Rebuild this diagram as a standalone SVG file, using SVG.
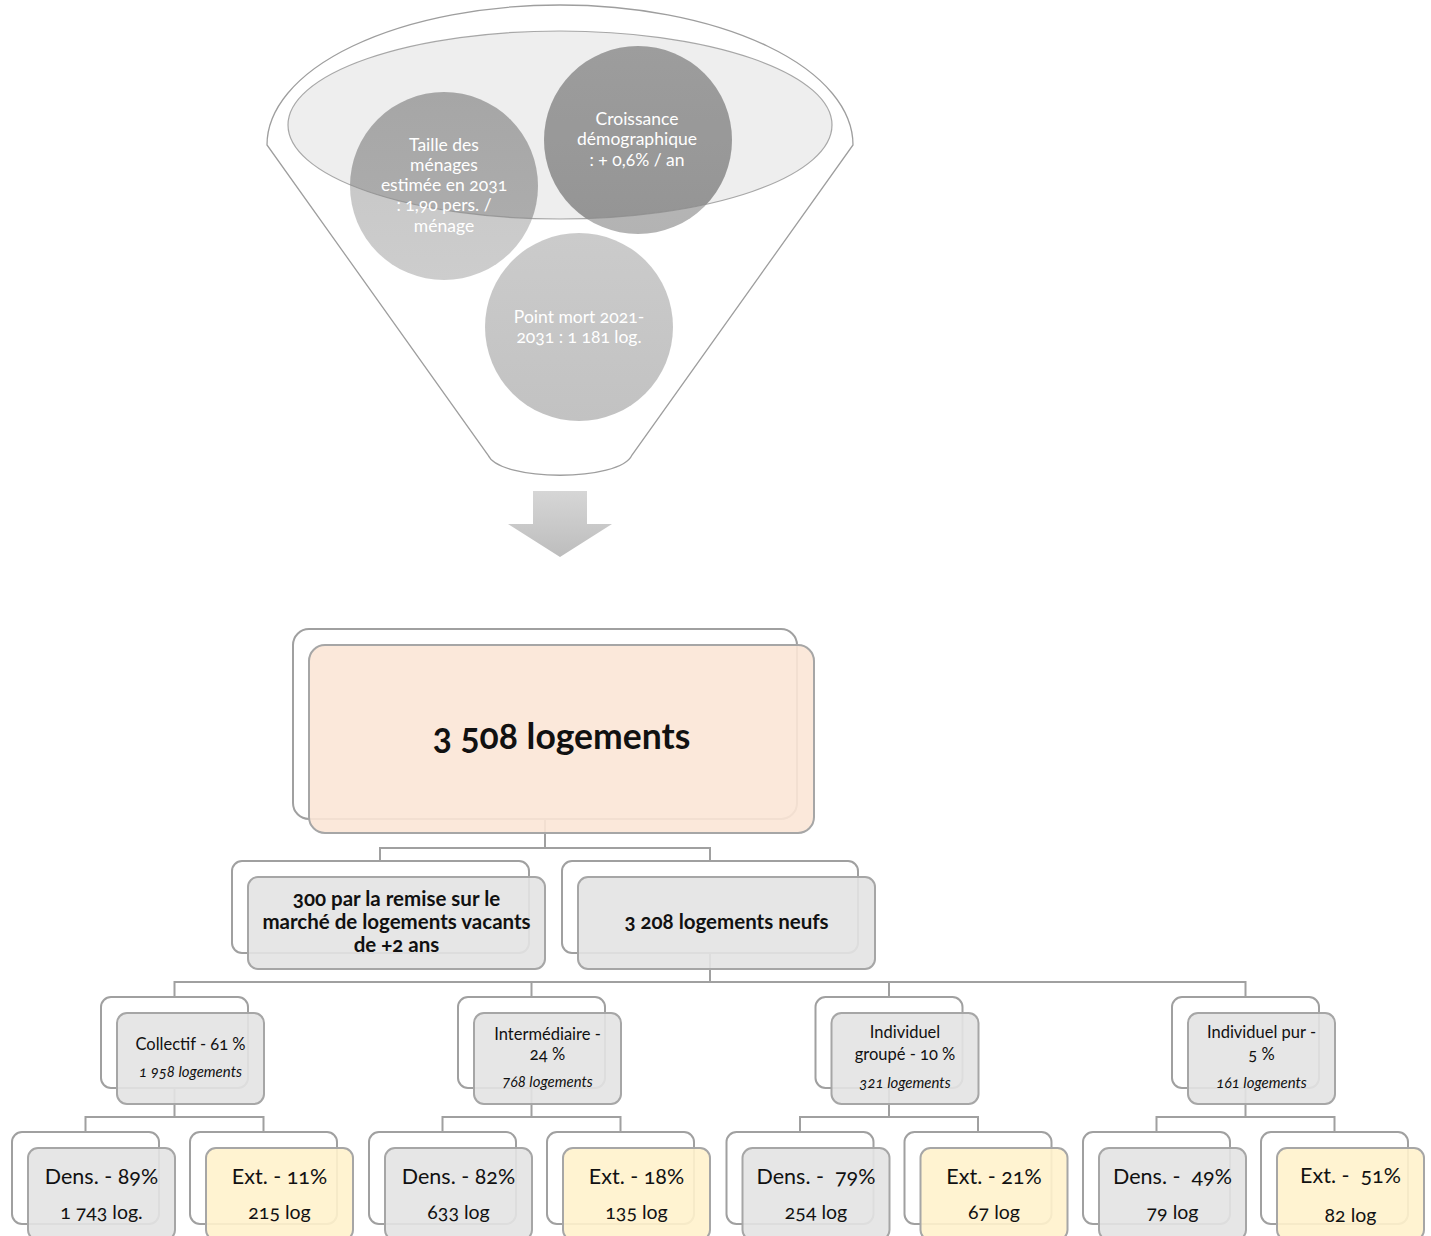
<svg xmlns="http://www.w3.org/2000/svg" width="1431" height="1236" viewBox="0 0 1431 1236">
<style>
text{font-family:"Lato","Open Sans","DejaVu Sans",sans-serif;text-anchor:middle;white-space:pre;font-variant-numeric:oldstyle-nums;}
.ft{fill:#ffffff;font-size:17.5px;}
.back{fill:#ffffff;stroke:#a0a0a0;stroke-width:2;}
.front{stroke:#a6a6a6;stroke-width:2;fill-opacity:0.9;}
.gray{fill:#e3e3e3;}
.peach{fill:#fbe5d6;}
.yellow{fill:#fff2cc;}
.conn{fill:none;stroke:#a0a0a0;stroke-width:2;}
.b{font-weight:bold;fill:#111;}
.l3{font-size:16.5px;fill:#111;}
.l3i{font-size:15px;font-style:italic;fill:#111;}
.l4a{font-size:21.5px;fill:#111;}
.l4b{font-size:19.5px;fill:#111;}
</style>
<defs>
<linearGradient id="gT" x1="0" y1="0" x2="0" y2="1"><stop offset="0" stop-color="#c4c4c4"/><stop offset="1" stop-color="#cdcdcd"/></linearGradient>
<linearGradient id="gC" x1="0" y1="0" x2="0" y2="1"><stop offset="0" stop-color="#bdbdbd"/><stop offset="1" stop-color="#b3b3b3"/></linearGradient>
<linearGradient id="gP" x1="0" y1="0" x2="0" y2="1"><stop offset="0" stop-color="#cbcbcb"/><stop offset="1" stop-color="#c2c2c2"/></linearGradient>
<linearGradient id="gA" x1="0" y1="0" x2="0" y2="1"><stop offset="0" stop-color="#d6d6d6"/><stop offset="1" stop-color="#bdbdbd"/></linearGradient>
<clipPath id="ellClip"><ellipse cx="560" cy="125" rx="272" ry="94"/></clipPath>
</defs>

<g id="funnel">
<path d="M 267 145 A 293 140 0 0 1 853 145 L 632 455 C 620 482, 500 482, 488 455 Z" fill="#ffffff" stroke="#9e9e9e" stroke-width="1.3"/>
<ellipse cx="560" cy="125" rx="272" ry="94" fill="#eeeeee"/>
</g>

<g id="circle-taille">
<circle cx="444" cy="186" r="94" fill="url(#gT)"/>
<circle cx="444" cy="186" r="94" fill="#000" fill-opacity="0.15" clip-path="url(#ellClip)"/>
</g>
<g id="circle-croissance">
<circle cx="638" cy="140" r="94" fill="url(#gC)"/>
<circle cx="638" cy="140" r="94" fill="#000" fill-opacity="0.17" clip-path="url(#ellClip)"/>
</g>
<g id="circle-pointmort">
<circle cx="579" cy="327" r="94" fill="url(#gP)"/>
</g>
<ellipse cx="560" cy="125" rx="272" ry="94" fill="none" stroke="#8c8c8c" stroke-width="1.2" stroke-opacity="0.75"/>

<g id="funnel-texts">
<text class="ft" x="444" y="150.5">Taille des</text>
<text class="ft" x="444" y="170.5">ménages</text>
<text class="ft" x="444" y="191">estimée en 2031</text>
<text class="ft" x="444" y="211">: 1,90 pers. /</text>
<text class="ft" x="444" y="231.5">ménage</text>
<text class="ft" x="637" y="125">Croissance</text>
<text class="ft" x="637" y="145">démographique</text>
<text class="ft" x="637" y="166">: + 0,6% / an</text>
<text class="ft" x="579" y="322.5">Point mort 2021-</text>
<text class="ft" x="579" y="343">2031 : 1 181 log.</text>
</g>

<g id="arrow">
<polygon points="533,491 587,491 587,524 612,524 560,557 508,524 533,524" fill="url(#gA)"/>
</g>

<g id="connectors">
<path class="conn" d="M545 819 V848 M380 848 H710 M380 847 V861 M710 847 V861"/>
<path class="conn" d="M710 953 V982 M174.5 982 H1245.5 M174.5 981 V997 M531.5 981 V997 M889 981 V997 M1245.5 981 V997"/>
<path class="conn" d="M174.5 1088 V1117 M85.5 1117 H263.5 M85.5 1116 V1132 M263.5 1116 V1132"/>
<path class="conn" d="M531.5 1088 V1117 M442.5 1117 H620.5 M442.5 1116 V1132 M620.5 1116 V1132"/>
<path class="conn" d="M889 1088 V1117 M800 1117 H978 M800 1116 V1132 M978 1116 V1132"/>
<path class="conn" d="M1245.5 1088 V1117 M1156.5 1117 H1334.5 M1156.5 1116 V1132 M1334.5 1116 V1132"/>
</g>

<g id="total">
<rect class="back" x="293" y="629" width="504" height="190" rx="16"/>
<rect class="front peach" x="309" y="645" width="505" height="188" rx="16"/>
<text class="b" x="561.5" y="749" font-size="35.5">3 508 logements</text>
</g>

<g id="vacants">
<rect class="back" x="232" y="861" width="297" height="92" rx="10"/>
<rect class="front gray" x="248" y="877" width="297" height="92" rx="10"/>
<text class="b" x="396.5" y="906" font-size="20.5">300 par la remise sur le</text>
<text class="b" x="396.5" y="929" font-size="20.5">marché de logements vacants</text>
<text class="b" x="396.5" y="952" font-size="20.5">de +2 ans</text>
</g>

<g id="neufs">
<rect class="back" x="562" y="861" width="296" height="92" rx="10"/>
<rect class="front gray" x="578" y="877" width="297" height="92" rx="10"/>
<text class="b" x="726.5" y="929" font-size="20.5">3 208 logements neufs</text>
</g>

<g id="collectif">
<rect class="back" x="101" y="997" width="147" height="91" rx="10"/>
<rect class="front gray" x="117" y="1013" width="147" height="91" rx="10"/>
<text class="l3" x="190.5" y="1050">Collectif - 61 %</text>
<text class="l3i" x="190.5" y="1077">1 958 logements</text>
</g>

<g id="intermediaire">
<rect class="back" x="458" y="997" width="147" height="91" rx="10"/>
<rect class="front gray" x="474" y="1013" width="147" height="91" rx="10"/>
<text class="l3" x="547.5" y="1040">Intermédiaire -</text>
<text class="l3" x="547.5" y="1060">24 %</text>
<text class="l3i" x="547.5" y="1087">768 logements</text>
</g>

<g id="individuel-groupe">
<rect class="back" x="815.5" y="997" width="147" height="91" rx="10"/>
<rect class="front gray" x="831.5" y="1013" width="147" height="91" rx="10"/>
<text class="l3" x="905" y="1038">Individuel</text>
<text class="l3" x="905" y="1060">groupé - 10 %</text>
<text class="l3i" x="905" y="1088" font-size="16">321 logements</text>
</g>

<g id="individuel-pur">
<rect class="back" x="1172" y="997" width="147" height="91" rx="10"/>
<rect class="front gray" x="1188" y="1013" width="147" height="91" rx="10"/>
<text class="l3" x="1261.5" y="1038">Individuel pur -</text>
<text class="l3" x="1261.5" y="1060">5 %</text>
<text class="l3i" x="1261.5" y="1088" font-size="16">161 logements</text>
</g>

<g id="dens-collectif">
<rect class="back" x="12" y="1132" width="147" height="92" rx="10"/>
<rect class="front gray" x="28" y="1148" width="147" height="92" rx="10"/>
<text class="l4a" x="101.5" y="1184">Dens. - 89%</text>
<text class="l4b" x="101.5" y="1219">1 743 log.</text>
</g>
<g id="ext-collectif">
<rect class="back" x="190" y="1132" width="147" height="92" rx="10"/>
<rect class="front yellow" x="206" y="1148" width="147" height="92" rx="10"/>
<text class="l4a" x="279.5" y="1184">Ext. - 11%</text>
<text class="l4b" x="279.5" y="1219">215 log</text>
</g>
<g id="dens-intermediaire">
<rect class="back" x="369" y="1132" width="147" height="92" rx="10"/>
<rect class="front gray" x="385" y="1148" width="147" height="92" rx="10"/>
<text class="l4a" x="458.5" y="1184">Dens. - 82%</text>
<text class="l4b" x="458.5" y="1219">633 log</text>
</g>
<g id="ext-intermediaire">
<rect class="back" x="547" y="1132" width="147" height="92" rx="10"/>
<rect class="front yellow" x="563" y="1148" width="147" height="92" rx="10"/>
<text class="l4a" x="636.5" y="1184">Ext. - 18%</text>
<text class="l4b" x="636.5" y="1219">135 log</text>
</g>
<g id="dens-groupe">
<rect class="back" x="726.5" y="1132" width="147" height="92" rx="10"/>
<rect class="front gray" x="742.5" y="1148" width="147" height="92" rx="10"/>
<text class="l4a" x="816" y="1184">Dens. -  79%</text>
<text class="l4b" x="816" y="1219">254 log</text>
</g>
<g id="ext-groupe">
<rect class="back" x="904.5" y="1132" width="147" height="92" rx="10"/>
<rect class="front yellow" x="920.5" y="1148" width="147" height="92" rx="10"/>
<text class="l4a" x="994" y="1184">Ext. - 21%</text>
<text class="l4b" x="994" y="1219">67 log</text>
</g>
<g id="dens-pur">
<rect class="back" x="1083" y="1132" width="147" height="92" rx="10"/>
<rect class="front gray" x="1099" y="1148" width="147" height="92" rx="10"/>
<text class="l4a" x="1172.5" y="1184">Dens. -  49%</text>
<text class="l4b" x="1172.5" y="1219">79 log</text>
</g>
<g id="ext-pur">
<rect class="back" x="1261" y="1132" width="147" height="92" rx="10"/>
<rect class="front yellow" x="1277" y="1148" width="147" height="92" rx="10"/>
<text class="l4a" x="1350.5" y="1183" font-size="23.5">Ext. -  51%</text>
<text class="l4b" x="1350.5" y="1222" font-size="23">82 log</text>
</g>
</svg>
